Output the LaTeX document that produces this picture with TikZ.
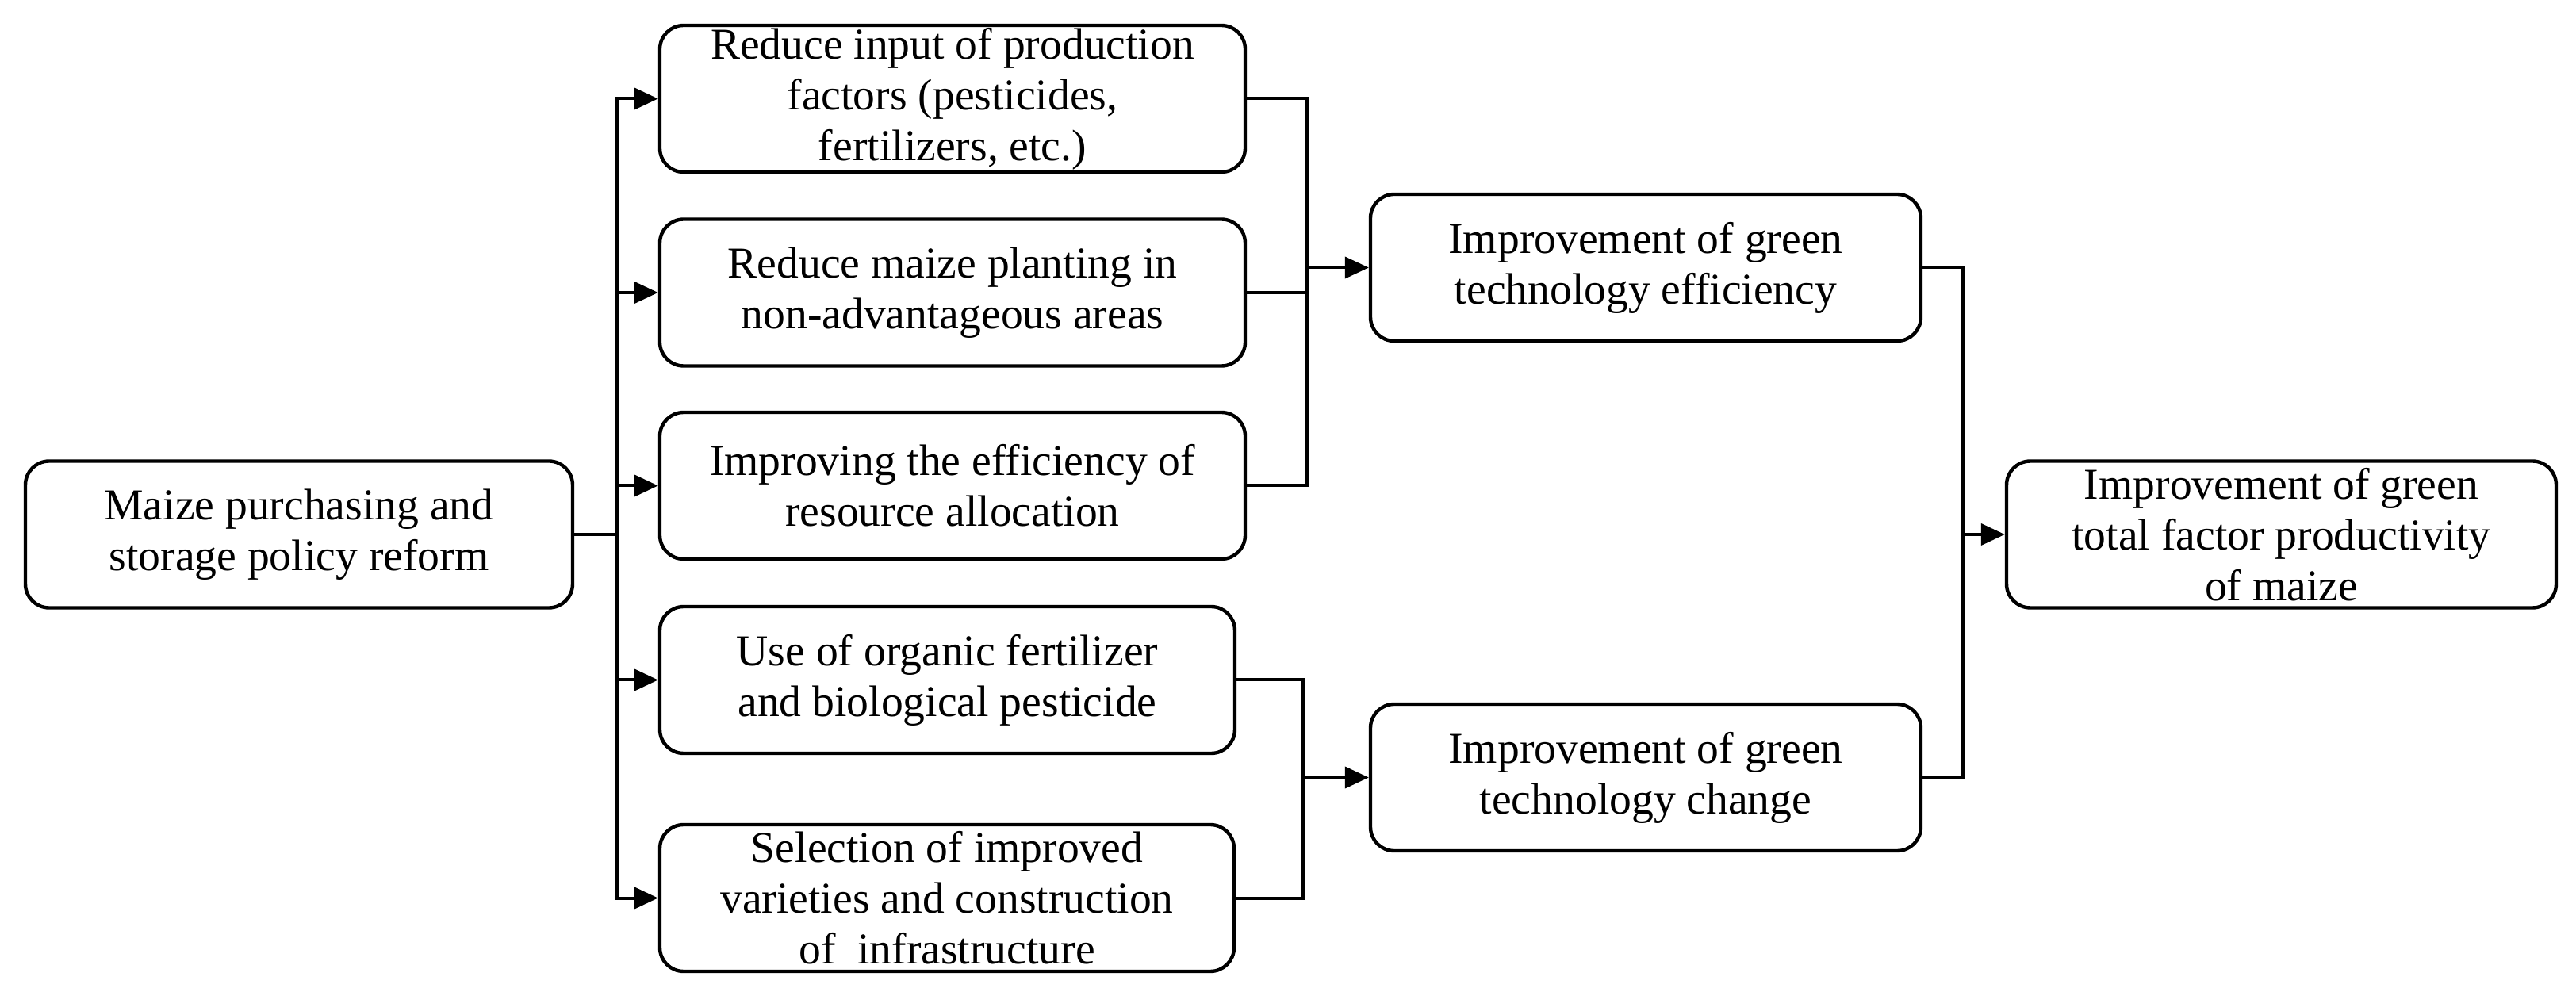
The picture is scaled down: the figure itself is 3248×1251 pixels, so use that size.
\documentclass[tikz,border=0pt]{standalone}
\usepackage{fontspec}
\setmainfont{Liberation Serif}
\usetikzlibrary{arrows.meta}
\begin{document}
\begin{tikzpicture}[x=0.25pt,y=-0.25pt,
  box/.style={draw=black, line width=1.1pt, rounded corners=7.5pt, fill=white,
    minimum height=46.25pt, inner sep=0pt, align=center,
    font=\fontsize{13.9}{16}\selectfont},
  conn/.style={draw=black, line width=1pt},
  arr/.style={conn, -{Triangle[length=7.5pt,width=6.75pt]}}]
\useasboundingbox (0,0) rectangle (3248,1251);
% nodes
\node[box, minimum width=172.5pt] (L) at (377,674) {Maize purchasing and\\storage policy reform};
\node[box, minimum width=184.5pt] (b1) at (1201,124.5) {Reduce input of production\\factors (pesticides,\\fertilizers, etc.)};
\node[box, minimum width=184.5pt] (b2) at (1201,369) {Reduce maize planting in\\non-advantageous areas};
\node[box, minimum width=184.5pt] (b3) at (1201,612.5) {Improving the efficiency of\\resource allocation};
\node[box, minimum width=181.25pt] (b4) at (1194.5,857.5) {Use of organic fertilizer\\and biological pesticide};
\node[box, minimum width=181pt] (b5) at (1194,1132.5) {Selection of improved\\varieties and construction\\of~ infrastructure};
\node[box, minimum width=173.5pt] (E) at (2075,337.5) {Improvement of green\\technology efficiency};
\node[box, minimum width=173.5pt] (C) at (2075,980.5) {Improvement of green\\technology change};
\node[box, minimum width=173.25pt] (R) at (2876.5,674) {Improvement of green\\total factor productivity\\of maize};
% junctions
\coordinate (t) at (778,674);
\coordinate (g1) at (1648,337.5);
\coordinate (g2) at (1643,980.5);
\coordinate (g3) at (2475,674);
% connectors
\draw[conn] (L.east) -- (t);
\foreach \b in {b1,b2,b3,b4,b5} \draw[arr] (t) |- (\b.west);
\foreach \b in {b1,b2,b3} \draw[conn] (\b.east) -| (g1);
\draw[arr] (g1) -- (E.west);
\foreach \b in {b4,b5} \draw[conn] (\b.east) -| (g2);
\draw[arr] (g2) -- (C.west);
\foreach \b in {E,C} \draw[conn] (\b.east) -| (g3);
\draw[arr] (g3) -- (R.west);
\end{tikzpicture}
\end{document}
